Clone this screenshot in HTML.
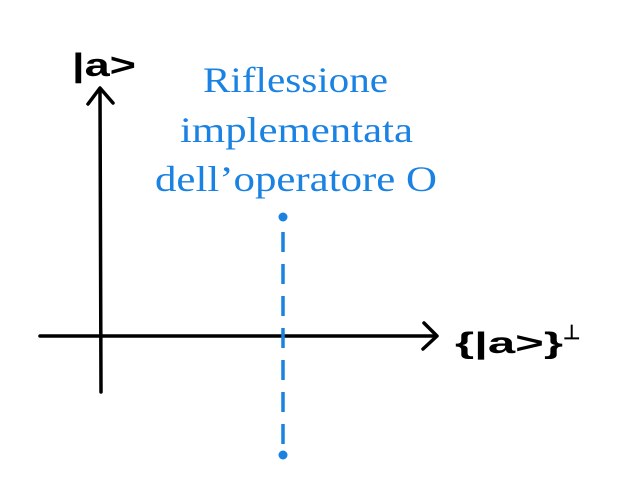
<!DOCTYPE html>
<html><head><meta charset="utf-8"><style>
html,body{margin:0;padding:0;background:#fff;width:633px;height:485px;overflow:hidden}
svg{display:block}
</style></head><body>
<svg width="633" height="485" viewBox="0 0 633 485">
<g stroke="#000" stroke-width="3.5" fill="none" stroke-linecap="round" stroke-linejoin="round">
<line x1="101" y1="392" x2="100" y2="90"/>
<polyline points="88,104 100,88 113,103"/>
<line x1="40" y1="336" x2="436" y2="336"/>
<polyline points="424,323 437,336 423,349"/>
</g>
<text x="72" y="76" font-family="Liberation Sans, sans-serif" font-size="32" font-weight="bold" fill="#000" textLength="64" lengthAdjust="spacingAndGlyphs">|a&gt;</text>
<text x="455" y="353" font-family="Liberation Sans, sans-serif" font-size="30" font-weight="bold" fill="#000"><tspan textLength="108" lengthAdjust="spacingAndGlyphs">{|a&gt;}</tspan><tspan dy="-14" font-size="20">⊥</tspan></text>
<g font-family="Liberation Serif, serif" font-size="36" fill="#1a82e2">
<text x="203" y="92" textLength="185" lengthAdjust="spacingAndGlyphs">Riflessione</text>
<text x="180" y="142" textLength="233" lengthAdjust="spacingAndGlyphs">implementata</text>
<text x="155" y="191" textLength="282" lengthAdjust="spacingAndGlyphs">dell’operatore O</text>
</g>
<line x1="283" y1="232" x2="283" y2="446" stroke="#1a82e2" stroke-width="3.5" stroke-dasharray="20,12"/>
<circle cx="283" cy="217" r="4.5" fill="#1a82e2"/>
<circle cx="283" cy="455" r="4.5" fill="#1a82e2"/>
</svg>
</body></html>
